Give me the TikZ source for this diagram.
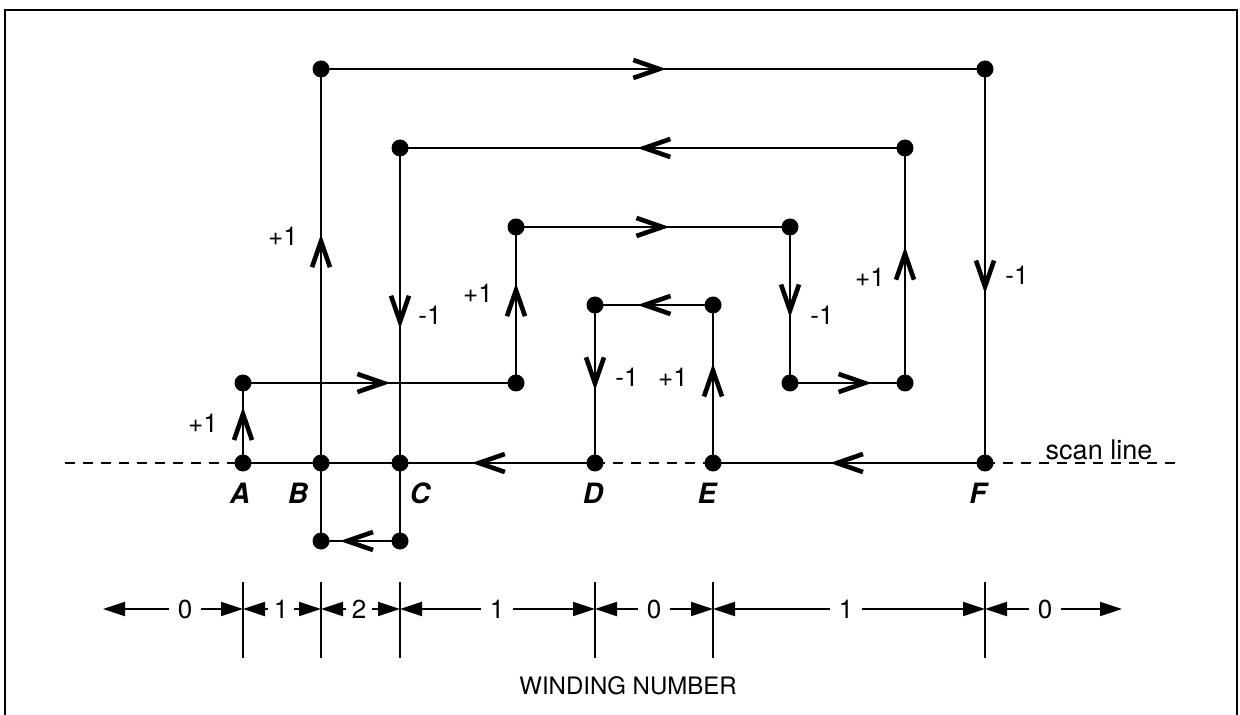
\documentclass[tikz,border=0pt]{standalone}
\usepackage{fontspec}
\setmainfont{TeX Gyre Heros}
\usetikzlibrary{
  positioning,
  arrows.meta,
  decorations.markings
}

\begin{document}
\begin{tikzpicture}[
  x=0.5pt, y=-0.5pt,
  dot/.style={circle, fill=black, inner sep=0pt, minimum size=8.5pt},
  poly/.style={line width=1pt},
  flow/.style={postaction={decorate, decoration={markings,
      mark=at position #1 with {\arrow{Straight Barb[length=13pt,width=9pt,line width=2.3pt]}}}}},
  scan/.style={line width=0.9pt, dash pattern=on 5pt off 4pt},
  wt/.style={font=\fontsize{13}{15}\selectfont, inner sep=1pt},
  letter/.style={font=\fontsize{14}{16}\selectfont\bfseries\itshape, inner sep=1pt},
  divider/.style={line width=0.8pt},
  wn/.style={line width=1pt, -{Triangle[length=11pt,width=7pt]}},
  num/.style={font=\fontsize{13}{15}\selectfont, inner sep=4pt},
]
  \useasboundingbox (0,0) rectangle (1240,715);
  \draw[line width=1.2pt] (5,716) |- (1237,10) -- (1237,716);

  % vertices on the scan line
  \node[dot] (A) at (243,463) {};
  \node[dot] (B) at (321,463) {};
  \node[dot] (C) at (400,463) {};
  \node[dot] (D) at (595,463) {};
  \node[dot] (E) at (713,463) {};
  \node[dot] (F) at (985,463) {};

  % other vertices of the polygon
  \node[dot] (p1) at (243,383) {};
  \node[dot] (p2) at (516,383) {};
  \node[dot] (p3) at (516,227) {};
  \node[dot] (p4) at (790,227) {};
  \node[dot] (p5) at (790,383) {};
  \node[dot] (p6) at (905,383) {};
  \node[dot] (p7) at (905,148) {};
  \node[dot] (p8) at (400,148) {};
  \node[dot] (p9) at (400,541) {};
  \node[dot] (p10) at (321,541) {};
  \node[dot] (p11) at (321,69) {};
  \node[dot] (p12) at (985,69) {};
  \node[dot] (p13) at (713,305) {};
  \node[dot] (p14) at (595,305) {};

  % scan line
  \coordinate (sL) at (65,463);
  \coordinate (sR) at (1180,463);
  \draw[scan] (sL) -- (A.center);
  \draw[scan] (D.center) -- (E.center);
  \draw[scan] (F.center) -- (sR);
  \node[font=\fontsize{13.5}{15}\selectfont, inner sep=1pt, anchor=base] (scanlbl) at (1099,459) {scan line};

  % polygon edges
  \foreach \a/\b/\t in {A/p1/0.70, p1/p2/0.54, p2/p3/0.64, p3/p4/0.56,
                        p4/p5/0.58, p5/p6/0.71, p6/p7/0.58, p7/p8/0.53,
                        p8/p9/0.46, p9/p10/0.76, p10/p11/0.65, p11/p12/0.52,
                        p12/F/0.57, F/E/0.57, E/p13/0.63, p13/p14/0.64,
                        p14/D/0.54, D/A/0.35}
    \draw[poly, flow=\t] (\a.center) -- (\b.center);

  % crossing counts
  \node[wt] (cA) at (203,423) {+1};
  \node[wt] (cB) at (283,236) {+1};
  \node[wt] (cC) at (430,315) {-1};
  \node[wt] (c2) at (478,293) {+1};
  \node[wt] (cD) at (627,377) {-1};
  \node[wt] (cE) at (673,377) {+1};
  \node[wt] (c4) at (822,315) {-1};
  \node[wt] (c6) at (870,277) {+1};
  \node[wt] (cF) at (1017,275) {-1};

  \node[letter] (lA) at (240,493) {A};
  \node[letter] (lB) at (298,493) {B};
  \node[letter] (lC) at (420,493) {C};
  \node[letter] (lD) at (593,493) {D};
  \node[letter] (lE) at (707,493) {E};
  \node[letter] (lF) at (978,493) {F};

  % winding number scale
  \foreach \n/\x in {tA/243, tB/321, tC/400, tD/595, tE/713, tF/985} {
    \coordinate (\n) at (\x,609);
    \draw[divider] (\n) ++(0,-27) -- ++(0,76);
  }
  \coordinate (wL) at (103,609);
  \coordinate (wR) at (1122,609);

  \node[num] (w0) at (185,609) {0};
  \node[num, inner sep=2.5pt] (w1) at (281,609) {1};
  \node[num, inner sep=2.5pt] (w2) at (359,609) {2};
  \node[num] (w3) at (497,609) {1};
  \node[num] (w4) at (654,609) {0};
  \node[num] (w5) at (846,609) {1};
  \node[num] (w6) at (1045,609) {0};

  \draw[wn] (w0) -- (wL);
  \draw[wn] (w0) -- (tA);
  \draw[wn] (w1) -- (tA);
  \draw[wn] (w1) -- (tB);
  \draw[wn] (w2) -- (tB);
  \draw[wn] (w2) -- (tC);
  \draw[wn] (w3) -- (tC);
  \draw[wn] (w3) -- (tD);
  \draw[wn] (w4) -- (tD);
  \draw[wn] (w4) -- (tE);
  \draw[wn] (w5) -- (tE);
  \draw[wn] (w5) -- (tF);
  \draw[wn] (w6) -- (tF);
  \draw[wn] (w6) -- (wR);

  \node[font=\fontsize{12}{14}\selectfont] (title) at (628,686) {WINDING NUMBER};
\end{tikzpicture}
\end{document}
